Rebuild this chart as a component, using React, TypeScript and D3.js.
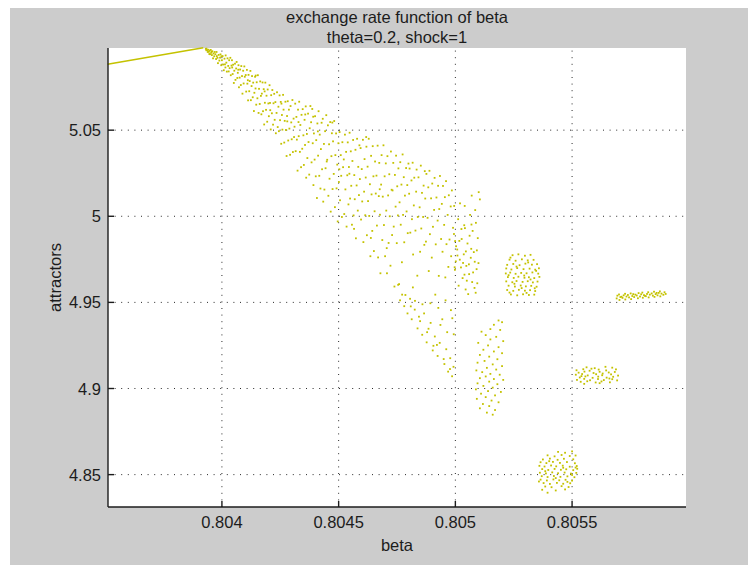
import React from "react";
import * as d3 from "d3";

// Bifurcation diagram: long-run values (attractors) of the exchange rate
// as the parameter beta varies, with theta = 0.2 and a unit shock.

const titleLines = ["exchange rate function of beta", "theta=0.2, shock=1"];
const xLabel = "beta";
const yLabel = "attractors";

const betaDomain = [0.803512, 0.805988];
const attractorDomain = [4.8312, 5.0977];
const betaTicks = [0.804, 0.8045, 0.805, 0.8055];
const attractorTicks = [4.85, 4.9, 4.95, 5, 5.05];

// Stable fixed point before the first bifurcation
const fixedPointBranch: [number, number][] = [
  [0.80351, 5.0883],
  [0.80392, 5.0978],
];

// Chaotic band that opens after the fixed point loses stability
const chaoticBand: [number, number][] = [
  [0.803931, 5.0972], [0.803933, 5.0964], [0.803934, 5.0973], [0.803937, 5.0965], [0.803939, 5.0954], [0.803942, 5.0967],
  [0.803944, 5.0955], [0.803947, 5.0961], [0.803949, 5.0941], [0.803952, 5.0966], [0.803954, 5.0949], [0.803957, 5.0936],
  [0.803959, 5.0958], [0.803962, 5.0917], [0.803964, 5.0945], [0.803967, 5.0929], [0.803969, 5.0954], [0.803946, 5.0942],
  [0.803956, 5.0956],
  [0.803972, 5.0941], [0.803975, 5.0913], [0.803977, 5.0954], [0.803981, 5.092], [0.803983, 5.0889], [0.803986, 5.0937],
  [0.803989, 5.0904], [0.803992, 5.0921], [0.803994, 5.094], [0.803997, 5.0877], [0.804, 5.0906], [0.804003, 5.093],
  [0.804005, 5.0881], [0.804008, 5.0848], [0.804011, 5.0915], [0.804013, 5.0882], [0.804016, 5.0934], [0.804019, 5.0892],
  [0.804021, 5.084], [0.804024, 5.0917], [0.804027, 5.0873], [0.804029, 5.0841], [0.803978, 5.093], [0.803998, 5.0929],
  [0.804015, 5.0864],
  [0.804031, 5.0906], [0.804033, 5.086], [0.804036, 5.092], [0.804038, 5.0819], [0.804041, 5.0875], [0.804043, 5.0906],
  [0.804046, 5.0826], [0.804048, 5.088], [0.804051, 5.0774], [0.804053, 5.0845], [0.804056, 5.0886], [0.804058, 5.0792],
  [0.804061, 5.0858], [0.804063, 5.0896], [0.804066, 5.0803], [0.804068, 5.0833], [0.804071, 5.0877], [0.804073, 5.0749],
  [0.804076, 5.0805], [0.804078, 5.0852], [0.804081, 5.0762], [0.804083, 5.0872], [0.804086, 5.0814], [0.804088, 5.0712],
  [0.804091, 5.0845], [0.804093, 5.0771], [0.804096, 5.087], [0.804098, 5.081], [0.804044, 5.0864], [0.80407, 5.0851],
  [0.804102, 5.082], [0.804104, 5.0724], [0.804107, 5.085], [0.804109, 5.077], [0.804112, 5.0673], [0.804114, 5.0821],
  [0.804117, 5.0726], [0.804119, 5.0785], [0.804122, 5.0844], [0.804124, 5.0674], [0.804127, 5.0756], [0.804129, 5.0814],
  [0.804132, 5.0691], [0.804134, 5.0776], [0.804137, 5.0611], [0.804139, 5.0717], [0.804142, 5.081], [0.804144, 5.0742],
  [0.804147, 5.0648], [0.804149, 5.0778], [0.804152, 5.0685], [0.804154, 5.0819], [0.804157, 5.06], [0.804159, 5.074],
  [0.804162, 5.0652], [0.804164, 5.0783], [0.804167, 5.0699], [0.804169, 5.0592], [0.804111, 5.079], [0.804145, 5.0817],
  [0.804171, 5.0712], [0.804174, 5.0777], [0.804176, 5.061], [0.804179, 5.0738], [0.804181, 5.0533], [0.804184, 5.0659],
  [0.804186, 5.0776], [0.804189, 5.0618], [0.804191, 5.07], [0.804194, 5.0549], [0.804196, 5.0736], [0.804199, 5.0655],
  [0.804201, 5.0581], [0.804204, 5.0761], [0.804206, 5.0658], [0.804209, 5.0504], [0.804211, 5.0703], [0.804214, 5.0598],
  [0.804216, 5.0733], [0.804219, 5.0532], [0.804221, 5.0656], [0.804224, 5.0711], [0.804226, 5.056], [0.804229, 5.0663],
  [0.804231, 5.0482], [0.804234, 5.06], [0.804236, 5.072], [0.804239, 5.0518], [0.804183, 5.0725], [0.804207, 5.0616],
  [0.804242, 5.0636], [0.804244, 5.0494], [0.804247, 5.0702], [0.804249, 5.0558], [0.804252, 5.0664], [0.804254, 5.0421],
  [0.804257, 5.0588], [0.804259, 5.0503], [0.804262, 5.0705], [0.804264, 5.0619], [0.804267, 5.0428], [0.804269, 5.0554],
  [0.804272, 5.0665], [0.804274, 5.0501], [0.804277, 5.035], [0.804279, 5.0582], [0.804282, 5.0668], [0.804284, 5.044],
  [0.804287, 5.0619], [0.804289, 5.0509], [0.804292, 5.0357], [0.804294, 5.064], [0.804297, 5.0545], [0.804299, 5.0447],
  [0.804302, 5.0675], [0.804304, 5.0373], [0.804307, 5.0567], [0.804309, 5.046], [0.804255, 5.0654], [0.80428, 5.0551],
  [0.804311, 5.052], [0.804314, 5.0654], [0.804316, 5.0378], [0.804319, 5.0577], [0.804321, 5.0445], [0.804324, 5.0265],
  [0.804326, 5.0619], [0.804329, 5.0465], [0.804331, 5.0665], [0.804334, 5.0374], [0.804336, 5.053], [0.804339, 5.0285],
  [0.804341, 5.0589], [0.804344, 5.0392], [0.804346, 5.0622], [0.804349, 5.047], [0.804351, 5.0298], [0.804354, 5.056],
  [0.804356, 5.0414], [0.804359, 5.0638], [0.804361, 5.0224], [0.804364, 5.0478], [0.804366, 5.0338], [0.804369, 5.0596],
  [0.804371, 5.0431], [0.804374, 5.0242], [0.804376, 5.0511], [0.804379, 5.064], [0.804328, 5.0547], [0.804357, 5.0591],
  [0.804382, 5.0546], [0.804384, 5.0313], [0.804387, 5.0623], [0.804389, 5.0424], [0.804392, 5.0181], [0.804394, 5.0481],
  [0.804397, 5.0329], [0.804399, 5.0581], [0.804402, 5.0232], [0.804404, 5.0442], [0.804407, 5.0106], [0.804409, 5.0539],
  [0.804412, 5.0352], [0.804414, 5.061], [0.804417, 5.0235], [0.804419, 5.0474], [0.804422, 5.0161], [0.804424, 5.039],
  [0.804427, 5.0543], [0.804429, 5.0273], [0.804432, 5.0566], [0.804434, 5.0085], [0.804437, 5.042], [0.804439, 5.0155],
  [0.804442, 5.0494], [0.804444, 5.0279], [0.804447, 5.0587], [0.804449, 5.0318], [0.804411, 5.0493], [0.804391, 5.0578],
  [0.804451, 5.0328], [0.804454, 5.0528], [0.804456, 5.0119], [0.804459, 5.0418], [0.804461, 5.0218], [0.804464, 5.0547],
  [0.804466, 5.0027], [0.804469, 5.0349], [0.804471, 5.0482], [0.804474, 5.0158], [0.804476, 5.0435], [0.804479, 5.0246],
  [0.804481, 5.0553], [0.804484, 5.0053], [0.804486, 5.0355], [0.804489, 5.0481], [0.804491, 5.0162], [0.804494, 5.03],
  [0.804496, 4.997], [0.804499, 5.0424], [0.804501, 5.0199], [0.804504, 5.0489], [0.804506, 5.0093], [0.804509, 5.0355],
  [0.804511, 5.0235], [0.804514, 4.9996], [0.804516, 5.043], [0.804519, 5.0285], [0.804473, 5.0544], [0.804503, 5.0273],
  [0.804522, 5.033], [0.804524, 5.0013], [0.804527, 5.0474], [0.804529, 5.0156], [0.804532, 5.0374], [0.804534, 4.994],
  [0.804537, 5.0238], [0.804539, 5.0429], [0.804542, 5.0069], [0.804544, 5.0286], [0.804547, 5.0485], [0.804549, 5.0103],
  [0.804552, 5.0377], [0.804554, 5.0177], [0.804557, 4.9951], [0.804559, 5.0321], [0.804562, 5.0443], [0.804564, 5.0005],
  [0.804567, 5.0239], [0.804569, 5.0099], [0.804572, 5.0386], [0.804574, 4.9872], [0.804577, 5.0179], [0.804579, 5.045],
  [0.804582, 5.0033], [0.804584, 5.0287], [0.804587, 5.0123], [0.804589, 5.0412], [0.804546, 5.0247], [0.804566, 4.9927],
  [0.804591, 5.0216], [0.804594, 5.0396], [0.804596, 4.9981], [0.804599, 5.0274], [0.804601, 5.0086], [0.804604, 5.0444],
  [0.804606, 4.985], [0.804609, 5.0143], [0.804611, 5.0332], [0.804614, 5.0006], [0.804616, 5.0225], [0.804619, 5.0404],
  [0.804621, 4.989], [0.804624, 5.0288], [0.804626, 5.0088], [0.804629, 5.045], [0.804631, 5.0002], [0.804634, 5.0186],
  [0.804636, 4.9768], [0.804639, 5.0351], [0.804641, 5.0127], [0.804644, 4.9915], [0.804646, 5.0407], [0.804649, 5.0232],
  [0.804651, 4.9798], [0.804654, 5.0029], [0.804656, 5.0318], [0.804659, 5.0132], [0.804618, 5.046], [0.804638, 4.9874],
  [0.804662, 5.0236], [0.804664, 4.9946], [0.804667, 5.041], [0.804669, 4.9761], [0.804672, 5.0117], [0.804674, 5.031],
  [0.804677, 5.0009], [0.804679, 4.9669], [0.804682, 5.0184], [0.804684, 5.0355], [0.804687, 4.9862], [0.804689, 5.0114],
  [0.804692, 5.0412], [0.804694, 4.9949], [0.804697, 5.0232], [0.804699, 4.9768], [0.804702, 5.0307], [0.804704, 5.0033],
  [0.804707, 4.9669], [0.804709, 5.0349], [0.804712, 5.0121], [0.804714, 4.9845], [0.804717, 5.0244], [0.804719, 5.0],
  [0.804722, 4.9713], [0.804724, 5.0376], [0.804727, 5.0154], [0.804729, 4.9891], [0.804676, 5.0157], [0.804706, 4.9815],
  [0.804731, 5.015], [0.804734, 5.031], [0.804736, 4.994], [0.804739, 4.9592], [0.804741, 5.024], [0.804744, 5.0056],
  [0.804746, 5.0352], [0.804749, 4.9844], [0.804751, 5.0174], [0.804754, 5.0005], [0.804756, 5.0278], [0.804759, 4.9606],
  [0.804761, 5.0081], [0.804764, 5.0314], [0.804766, 4.9951], [0.804769, 5.0184], [0.804771, 4.9733], [0.804774, 5.0359],
  [0.804776, 5.0008], [0.804779, 5.0227], [0.804781, 4.9849], [0.804784, 5.012], [0.804786, 4.9543], [0.804789, 5.028],
  [0.804791, 5.0028], [0.804794, 5.0181], [0.804796, 4.9902], [0.804799, 5.0306],
  [0.804802, 5.0131], [0.804804, 5.0277], [0.804807, 4.9905], [0.804809, 4.9477], [0.804812, 5.0208], [0.804814, 4.9983],
  [0.804817, 5.0311], [0.804819, 4.9778], [0.804822, 5.0063], [0.804824, 5.0224], [0.804827, 4.9509], [0.804829, 4.9917],
  [0.804832, 5.0143], [0.804834, 5.0271], [0.804837, 4.9655], [0.804839, 4.9996], [0.804842, 5.0226], [0.804844, 4.9417],
  [0.804847, 5.0052], [0.804849, 4.9794], [0.804852, 5.0294], [0.804854, 4.9929], [0.804857, 5.0136], [0.804859, 4.9489],
  [0.804862, 4.9996], [0.804864, 5.0178], [0.804867, 4.9834], [0.804869, 5.0262],
  [0.804871, 5.0103], [0.804874, 4.9853], [0.804876, 5.0246], [0.804879, 4.9327], [0.804881, 4.9991], [0.804884, 5.0168],
  [0.804886, 4.9682], [0.804889, 5.0264], [0.804891, 4.9896], [0.804894, 4.9381], [0.804896, 5.0104], [0.804899, 4.976],
  [0.804901, 5.019], [0.804904, 4.9939], [0.804906, 4.9248], [0.804909, 5.0037], [0.804911, 5.0223], [0.804914, 4.9545],
  [0.804916, 4.9837], [0.804919, 5.0109], [0.804921, 4.9253], [0.804924, 4.9975], [0.804926, 5.0177], [0.804929, 4.9654],
  [0.804931, 5.0042], [0.804934, 5.0234], [0.804936, 4.9369], [0.804939, 4.9868],
  [0.804942, 5.0072], [0.804945, 4.9794], [0.804947, 5.0176], [0.80495, 4.9171], [0.804952, 4.995], [0.804955, 5.0111],
  [0.804957, 4.9645], [0.80496, 5.0204], [0.804962, 4.9838], [0.804965, 4.9327], [0.804967, 5.0008], [0.80497, 4.9706],
  [0.804972, 5.0122], [0.804975, 4.9865], [0.804977, 4.9113], [0.80498, 5.0057], [0.804982, 4.9768], [0.804985, 5.015],
  [0.804987, 4.9408], [0.80499, 4.9933], [0.804992, 4.9126], [0.804995, 5.006], [0.804997, 4.9704], [0.804999, 4.9856],
];

// Sparse lower tail of the chaotic band
const bandTail: [number, number][] = [
  [0.804763, 4.9512], [0.804772, 4.9545], [0.804781, 4.9478], [0.804795, 4.9436], [0.804806, 4.9521], [0.804813, 4.9402],
  [0.804826, 4.9458], [0.804838, 4.9349], [0.804849, 4.9391], [0.804858, 4.9312], [0.804866, 4.9436], [0.804877, 4.9268],
  [0.804885, 4.9347], [0.804893, 4.9495], [0.804903, 4.9221], [0.804912, 4.9302], [0.804924, 4.9189], [0.804933, 4.9265],
  [0.804944, 4.9402], [0.804953, 4.9142], [0.804961, 4.9228], [0.804969, 4.9098], [0.804978, 4.9176], [0.804986, 4.9071],
  [0.804993, 4.9315], [0.804958, 4.9512], [0.804927, 4.9468], [0.804981, 4.9455], [0.804818, 4.9587], [0.804755, 4.9602],
];

// Pieces of the attractor just past beta = 0.805
const upperColumn: [number, number][] = [
  [0.805012, 4.9983], [0.805063, 5.0008], [0.805041, 4.9931], [0.805088, 4.9962], [0.804994, 4.9897], [0.805027, 4.9868],
  [0.805074, 4.9915], [0.805052, 4.9842], [0.805008, 4.9807], [0.805096, 4.9873], [0.805036, 4.9779], [0.805068, 4.9811],
  [0.805019, 4.9748], [0.805083, 4.9736], [0.805047, 4.9712], [0.804998, 4.9689], [0.805059, 4.9664], [0.805031, 4.9641],
  [0.805091, 4.9693], [0.805072, 4.9618], [0.805014, 4.9597], [0.805044, 4.9575], [0.805087, 4.9556], [0.805055, 4.9548],
  [0.805024, 4.9703], [0.805066, 4.9759], [0.805003, 4.9826], [0.805079, 4.9792], [0.805038, 4.9948], [0.805094, 4.9611],
  [0.805049, 4.9626], [0.805017, 4.9857], [0.805061, 4.9887], [0.805033, 4.9729], [0.805076, 4.9674], [0.805009, 4.9772],
  [0.805099, 4.9728], [0.805045, 4.9796], [0.805026, 4.9926], [0.805082, 4.9584], [0.805058, 4.9721], [0.805069, 4.9952],
  [0.805002, 4.9738], [0.805039, 4.9661], [0.805092, 4.9802],
  [0.80507, 5.012], [0.8051, 5.014], [0.805105, 5.0098], [0.80504, 5.006], [0.80502, 5.0075], [0.805085, 5.0036],
];

const upperBlock: [number, number][] = [
  [0.805245, 4.9774], [0.80527, 4.9779], [0.805298, 4.9771], [0.805322, 4.9776],
  [0.805232, 4.9748], [0.805258, 4.9742], [0.805285, 4.975], [0.80531, 4.9744], [0.805335, 4.9747],
  [0.805222, 4.9718], [0.805248, 4.9723], [0.805275, 4.9716], [0.8053, 4.9725], [0.805328, 4.9719], [0.80535, 4.9722],
  [0.805218, 4.9697], [0.80524, 4.9691], [0.805265, 4.9699], [0.805292, 4.9693], [0.805318, 4.9696], [0.805342, 4.969], [0.805358, 4.9698],
  [0.805216, 4.9668], [0.805235, 4.9673], [0.805258, 4.9666], [0.805282, 4.9671], [0.805305, 4.9669], [0.80533, 4.9674], [0.805355, 4.9667],
  [0.805225, 4.9647], [0.80525, 4.9642], [0.80527, 4.9649], [0.805296, 4.9643], [0.805315, 4.9646], [0.805338, 4.9641], [0.80536, 4.9648],
  [0.805218, 4.9622], [0.805244, 4.9617], [0.805262, 4.9624], [0.805288, 4.9619], [0.80531, 4.9623], [0.805332, 4.9616], [0.805352, 4.9621],
  [0.805228, 4.9597], [0.805255, 4.9592], [0.80528, 4.9598], [0.805302, 4.9593], [0.805325, 4.9596], [0.805348, 4.9591],
  [0.805222, 4.9572], [0.805248, 4.9567], [0.805272, 4.9573], [0.805298, 4.9568], [0.80532, 4.9571], [0.805342, 4.9566],
  [0.805238, 4.9546], [0.805265, 4.9541], [0.80529, 4.9547], [0.805315, 4.9543], [0.805338, 4.9545],
  [0.805236, 4.976], [0.805312, 4.9732], [0.805262, 4.9708], [0.805346, 4.9683], [0.805228, 4.9658], [0.805295, 4.9656],
  [0.805322, 4.9633], [0.805253, 4.9608], [0.80534, 4.9582], [0.805284, 4.9583], [0.805232, 4.9557], [0.805305, 4.9555],
];

const lowerColumn: [number, number][] = [
  [0.805185, 4.9395], [0.8052, 4.9385], [0.805165, 4.937], [0.80515, 4.9345], [0.805192, 4.934], [0.805112, 4.933],
  [0.80513, 4.931], [0.805175, 4.93], [0.80515, 4.9285], [0.805205, 4.9275], [0.805098, 4.9265], [0.80514, 4.925],
  [0.805185, 4.924], [0.80512, 4.9225], [0.805165, 4.9215], [0.8052, 4.9205], [0.805105, 4.9195], [0.805145, 4.9185],
  [0.80518, 4.917], [0.805125, 4.916], [0.805095, 4.915], [0.80516, 4.914], [0.8052, 4.913], [0.805135, 4.912],
  [0.805175, 4.911], [0.80509, 4.9105], [0.805115, 4.9095], [0.80515, 4.9085], [0.80519, 4.908], [0.80513, 4.907],
  [0.805105, 4.906], [0.805165, 4.9055], [0.805205, 4.905], [0.805145, 4.904], [0.805095, 4.903], [0.80518, 4.9025],
  [0.80512, 4.9015], [0.80516, 4.9005], [0.805088, 4.8995], [0.80514, 4.8985], [0.805195, 4.898], [0.80511, 4.897],
  [0.80517, 4.896], [0.80513, 4.895], [0.805092, 4.894], [0.805155, 4.893], [0.805185, 4.892], [0.805118, 4.891],
  [0.805145, 4.8898], [0.805105, 4.8885], [0.80517, 4.8875], [0.805135, 4.886], [0.80516, 4.8848],
];

const bottomBlock: [number, number][] = [
  [0.80544, 4.8632], [0.80547, 4.8627], [0.8055, 4.8635],
  [0.805395, 4.8612], [0.805425, 4.8606], [0.805455, 4.8614], [0.80549, 4.8608], [0.805515, 4.8611],
  [0.805375, 4.8588], [0.805405, 4.8593], [0.805438, 4.8586], [0.805465, 4.8592], [0.805505, 4.8589],
  [0.805365, 4.8572], [0.80539, 4.8567], [0.805418, 4.8574], [0.805448, 4.8568], [0.805478, 4.8573], [0.805512, 4.8566],
  [0.80536, 4.8551], [0.805382, 4.8547], [0.80541, 4.8553], [0.805432, 4.8548], [0.80546, 4.8552], [0.80549, 4.8546], [0.80552, 4.855],
  [0.805372, 4.8532], [0.805398, 4.8527], [0.805425, 4.8533], [0.805452, 4.8528], [0.805475, 4.8531], [0.805505, 4.8526], [0.805522, 4.8534],
  [0.805362, 4.8511], [0.805388, 4.8507], [0.805415, 4.8513], [0.80544, 4.8508], [0.805468, 4.8512], [0.805495, 4.8506], [0.805518, 4.851],
  [0.80537, 4.8491], [0.805395, 4.8486], [0.805422, 4.8492], [0.80545, 4.8487], [0.80548, 4.849], [0.80551, 4.8485],
  [0.805365, 4.8471], [0.805392, 4.8466], [0.80542, 4.8472], [0.805445, 4.8467], [0.805472, 4.847], [0.8055, 4.8465],
  [0.805378, 4.8451], [0.805405, 4.8446], [0.805435, 4.8452], [0.805462, 4.8447], [0.805492, 4.845],
  [0.805385, 4.8431], [0.805412, 4.8427], [0.805455, 4.8433], [0.805485, 4.8428],
  [0.805372, 4.8412], [0.80543, 4.8408], [0.80547, 4.8414], [0.805395, 4.8395],
  [0.805402, 4.8578], [0.805462, 4.854], [0.805385, 4.852], [0.8055, 4.8498], [0.80543, 4.848], [0.805358, 4.846],
  [0.80548, 4.8458], [0.805515, 4.8541],
];

const middleStrip: [number, number][] = [
  [0.805562, 4.9123], [0.805597, 4.9118], [0.805643, 4.9126], [0.805672, 4.9121],
  [0.805519, 4.9106], [0.805548, 4.9112], [0.805575, 4.9103], [0.805614, 4.911], [0.805646, 4.9105], [0.805688, 4.9111],
  [0.805528, 4.9092], [0.805553, 4.9098], [0.805592, 4.909], [0.805618, 4.9097], [0.805657, 4.9093], [0.805683, 4.9096],
  [0.805516, 4.908], [0.805543, 4.9084], [0.805567, 4.9076], [0.805603, 4.9083], [0.805629, 4.9077], [0.805667, 4.9082], [0.805697, 4.9075],
  [0.805533, 4.9064], [0.805557, 4.907], [0.805588, 4.9062], [0.805612, 4.9069], [0.805648, 4.9063], [0.805676, 4.9068],
  [0.805521, 4.905], [0.805552, 4.9056], [0.805577, 4.9048], [0.805611, 4.9055], [0.805636, 4.9049], [0.805672, 4.9054], [0.805693, 4.9047],
  [0.805537, 4.9039], [0.805565, 4.9042], [0.805601, 4.9035], [0.805626, 4.9041], [0.805662, 4.9036],
  [0.805552, 4.9027], [0.805618, 4.9031], [0.805583, 4.9115], [0.805631, 4.9087], [0.80554, 4.9072], [0.80566, 4.9058],
];

const upperStrip: [number, number][] = [
  [0.805691, 4.9523], [0.805694, 4.9539], [0.805703, 4.9514], [0.805707, 4.9531], [0.805701, 4.9546], [0.805716, 4.9526],
  [0.805721, 4.9541], [0.805728, 4.9517], [0.805733, 4.9534], [0.805727, 4.955], [0.805744, 4.9529], [0.805739, 4.9543],
  [0.805753, 4.9519], [0.805758, 4.9537], [0.805751, 4.9552], [0.805766, 4.9531], [0.805771, 4.9545], [0.805782, 4.9524],
  [0.805777, 4.954], [0.805785, 4.9554], [0.805791, 4.9534], [0.805796, 4.9547], [0.805803, 4.9527], [0.805808, 4.9542],
  [0.805801, 4.9557], [0.805816, 4.9536], [0.805821, 4.9549], [0.805828, 4.9529], [0.805833, 4.9545], [0.805826, 4.9559],
  [0.805846, 4.9539], [0.805841, 4.9552], [0.805853, 4.9532], [0.805858, 4.9548], [0.805851, 4.9562], [0.805866, 4.9541],
  [0.805871, 4.9555], [0.805878, 4.9535], [0.805883, 4.9551], [0.805876, 4.9564], [0.805891, 4.9544], [0.805896, 4.9559],
  [0.805901, 4.9549], [0.805712, 4.9533], [0.805762, 4.9548], [0.805812, 4.9538], [0.805862, 4.9555],
];

const attractorSets = [chaoticBand, bandTail, upperColumn, upperBlock, lowerColumn, bottomBlock, middleStrip, upperStrip];

const W = 748;
const H = 565;
const plot = { left: 108, top: 48, right: 686, bottom: 507 };
const markColor = "#c4c200";
const inkColor = "#1c1c1c";
const fontFamily = "'Liberation Sans', Arial, Helvetica, sans-serif";
const tickLen = 6;

export default function App() {
  const x = d3.scaleLinear().domain(betaDomain).range([plot.left, plot.right]);
  const y = d3.scaleLinear().domain(attractorDomain).range([plot.bottom, plot.top]);
  const branchPath = d3.line<[number, number]>().x((d) => x(d[0])).y((d) => y(d[1]))(fixedPointBranch) ?? "";
  const cx = (plot.left + plot.right) / 2;
  const cy = (plot.top + plot.bottom) / 2;

  return (
    <svg width={W} height={H} style={{ position: "absolute", left: 0, top: 0, display: "block" }} fontFamily={fontFamily}>
      <rect x={0} y={0} width={W} height={H} fill="#ffffff" />
      <rect x={10} y={8} width={W - 10} height={H - 8} fill="#cccccc" />
      <rect x={plot.left} y={plot.top} width={plot.right - plot.left} height={plot.bottom - plot.top} fill="#ffffff" />

      {/* dotted grid */}
      <g stroke="#2a2a2a" strokeWidth={1} strokeDasharray="1 5.6">
        {betaTicks.map((t) => (
          <line key={"gx" + t} x1={x(t)} x2={x(t)} y1={plot.bottom} y2={plot.top} />
        ))}
        {attractorTicks.map((t) => (
          <line key={"gy" + t} x1={plot.left} x2={plot.right} y1={y(t)} y2={y(t)} />
        ))}
      </g>

      {/* attractor points */}
      <path d={branchPath} fill="none" stroke={markColor} strokeWidth={1.6} />
      <g fill={markColor}>
        {attractorSets.flat().map((d, i) => (
          <rect key={i} x={x(d[0]) - 0.9} y={y(d[1]) - 0.9} width={1.8} height={1.8} />
        ))}
      </g>

      {/* axes */}
      <g stroke={inkColor} strokeWidth={1.4}>
        <line x1={plot.left} x2={plot.left} y1={plot.top} y2={plot.bottom} />
        <line x1={plot.left} x2={plot.right} y1={plot.bottom} y2={plot.bottom} />
        {betaTicks.map((t) => (
          <line key={"tx" + t} x1={x(t)} x2={x(t)} y1={plot.bottom} y2={plot.bottom - tickLen} />
        ))}
        {attractorTicks.map((t) => (
          <line key={"ty" + t} x1={plot.left} x2={plot.left + tickLen} y1={y(t)} y2={y(t)} />
        ))}
      </g>

      <g fill={inkColor} fontSize={16.5}>
        {betaTicks.map((t) => (
          <text key={"lx" + t} x={x(t)} y={528} textAnchor="middle">
            {String(t)}
          </text>
        ))}
        {attractorTicks.map((t) => (
          <text key={"ly" + t} x={101} y={y(t) + 6} textAnchor="end">
            {String(t)}
          </text>
        ))}
        <text x={cx} y={551} textAnchor="middle">
          {xLabel}
        </text>
        <text transform={`translate(61,${cy}) rotate(-90)`} textAnchor="middle">
          {yLabel}
        </text>
        {titleLines.map((s, i) => (
          <text key={s} x={cx} y={23 + i * 20} textAnchor="middle">
            {s}
          </text>
        ))}
      </g>
    </svg>
  );
}
